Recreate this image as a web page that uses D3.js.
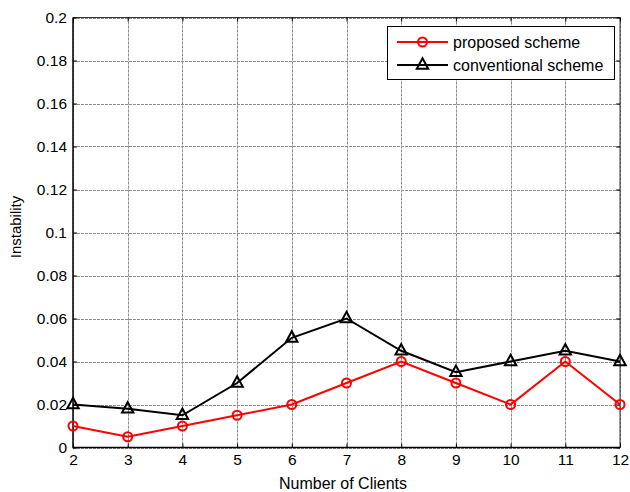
<!DOCTYPE html>
<html>
<head>
<meta charset="utf-8">
<script src="https://cdn.jsdelivr.net/npm/d3@7"></script>
<style>
body { margin: 0; background: #fff; }
text { font-family: "Liberation Sans", Arial, sans-serif; }
</style>
</head>
<body>
<script>
var clients = [2, 3, 4, 5, 6, 7, 8, 9, 10, 11, 12];
var proposed = [0.01, 0.005, 0.01, 0.015, 0.02, 0.03, 0.04, 0.03, 0.02, 0.04, 0.02];
var conventional = [0.02, 0.018, 0.015, 0.03, 0.051, 0.06, 0.045, 0.035, 0.04, 0.045, 0.04];
var yTicks = [0, 0.02, 0.04, 0.06, 0.08, 0.1, 0.12, 0.14, 0.16, 0.18, 0.2];
var seriesNames = ['proposed scheme', 'conventional scheme'];

var W = 630, H = 492;
// note: "top" is a reserved window property, so use plot* names
var plotL = 73, plotR = 620, plotT = 17.5, plotB = 447.5;

var svg = d3.select('body').append('svg')
	.attr('width', W)
	.attr('height', H);

var x = d3.scaleLinear().domain([2, 12]).range([plotL, plotR]);
var y = d3.scaleLinear().domain([0, 0.2]).range([plotB, plotT]);

// grid (fine dotted, matlab style)
var grid = svg.append('g').attr('stroke', '#8c8c8c').attr('stroke-width', 1).attr('stroke-dasharray', '3,1');
grid.selectAll('.gx').data(clients).enter().append('line')
	.attr('x1', function(d) { return Math.round(x(d)) + 0.5; })
	.attr('x2', function(d) { return Math.round(x(d)) + 0.5; })
	.attr('y1', plotT).attr('y2', plotB);
grid.selectAll('.gy').data(yTicks).enter().append('line')
	.attr('y1', function(d) { return Math.round(y(d)) + 0.5; })
	.attr('y2', function(d) { return Math.round(y(d)) + 0.5; })
	.attr('x1', plotL).attr('x2', plotR);

// axes (ticks inward)
var xAxis = d3.axisBottom(x).tickValues(clients).tickSizeInner(-4).tickSizeOuter(0).tickPadding(6).tickFormat(d3.format('d'));
var yAxis = d3.axisLeft(y).tickValues(yTicks).tickSizeInner(-4).tickSizeOuter(0).tickPadding(6)
	.tickFormat(function(d) { return d === 0 ? '0' : String(+d.toFixed(2)); });

var gx = svg.append('g').attr('transform', 'translate(0,' + plotB + ')').call(xAxis);
var gy = svg.append('g').attr('transform', 'translate(' + plotL + ',0)').call(yAxis);
[gx, gy].forEach(function(g) {
	g.selectAll('text').attr('font-size', 15.5).attr('fill', '#000')
		.style('font-family', '"Liberation Sans", Arial, sans-serif');
	g.selectAll('line').attr('stroke', '#000');
	g.select('.domain').remove();
});
// top and right ticks
svg.append('g').attr('transform', 'translate(0,' + plotT + ')')
	.call(d3.axisTop(x).tickValues(clients).tickSizeInner(-4).tickSizeOuter(0).tickFormat(''))
	.call(function(g) { g.select('.domain').remove(); });
svg.append('g').attr('transform', 'translate(' + plotR + ',0)')
	.call(d3.axisRight(y).tickValues(yTicks).tickSizeInner(-4).tickSizeOuter(0).tickFormat(''))
	.call(function(g) { g.select('.domain').remove(); });

// box
svg.append('path')
	.attr('d', 'M' + plotL + ',' + plotT + 'V' + plotB + 'H' + plotR)
	.attr('fill', 'none').attr('stroke', '#000').attr('stroke-width', 1.5);
svg.append('path')
	.attr('d', 'M' + plotL + ',' + plotT + 'H' + plotR + 'V' + plotB)
	.attr('fill', 'none').attr('stroke', '#000').attr('stroke-width', 0.8);

// lines
var line = d3.line()
	.x(function(d) { return x(d[0]); })
	.y(function(d) { return y(d[1]); });

var triangle = function(cx, cy, s) {
	return 'M' + cx + ',' + (cy - s * 0.7) + 'L' + (cx + s * 0.6) + ',' + (cy + s * 0.4) + 'L' + (cx - s * 0.6) + ',' + (cy + s * 0.4) + 'Z';
};

var convData = d3.zip(clients, conventional);
var propData = d3.zip(clients, proposed);

svg.append('path').datum(convData)
	.attr('d', line).attr('fill', 'none').attr('stroke', '#000').attr('stroke-width', 2);
svg.selectAll('.tri').data(convData).enter().append('path')
	.attr('d', function(d) { return triangle(x(d[0]), y(d[1]), 9.5); })
	.attr('fill', 'none').attr('stroke', '#000').attr('stroke-width', 2);

svg.append('path').datum(propData)
	.attr('d', line).attr('fill', 'none').attr('stroke', '#ff0000').attr('stroke-width', 2);
svg.selectAll('.circ').data(propData).enter().append('circle')
	.attr('cx', function(d) { return x(d[0]); })
	.attr('cy', function(d) { return y(d[1]); })
	.attr('r', 4.5).attr('fill', 'none').attr('stroke', '#ff0000').attr('stroke-width', 2);

// axis labels
svg.append('text').attr('x', 343).attr('y', 488.5)
	.attr('text-anchor', 'middle').attr('font-size', 16).text('Number of Clients');
svg.append('text').attr('transform', 'translate(21,227) rotate(-90)')
	.attr('text-anchor', 'middle').attr('font-size', 15).text('Instability');

// legend
var lg = svg.append('g');
lg.append('rect').attr('x', 387.5).attr('y', 26.5).attr('width', 227).attr('height', 53)
	.attr('fill', '#fff').attr('stroke', '#000').attr('stroke-width', 1);
var colors = ['#ff0000', '#000'];
seriesNames.forEach(function(name, i) {
	var ly = 42 + i * 23;
	lg.append('line').attr('x1', 397).attr('x2', 448).attr('y1', ly).attr('y2', ly)
		.attr('stroke', colors[i]).attr('stroke-width', 2);
	if (i === 0) {
		lg.append('circle').attr('cx', 422.5).attr('cy', ly).attr('r', 4.5)
			.attr('fill', 'none').attr('stroke', colors[i]).attr('stroke-width', 2);
	} else {
		lg.append('path').attr('d', triangle(422.5, ly, 9.5))
			.attr('fill', 'none').attr('stroke', colors[i]).attr('stroke-width', 2);
	}
	lg.append('text').attr('x', 453).attr('y', ly + 5.5).attr('font-size', 16).text(name);
});
</script>
</body>
</html>
